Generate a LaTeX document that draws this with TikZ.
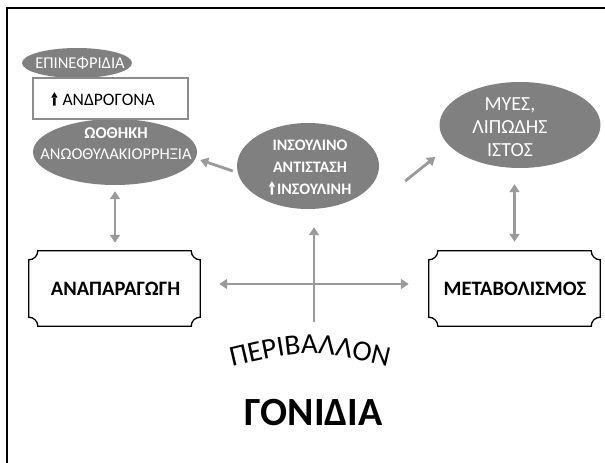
\documentclass[tikz,border=0pt]{standalone}
\usepackage{fontspec}
\setmainfont{Carlito}
\usetikzlibrary{shapes.geometric,arrows.meta,calc,decorations.text}

\definecolor{blobgray}{HTML}{808080}
\definecolor{arrowgray}{HTML}{9A9A9A}
\definecolor{boxgray}{HTML}{8C8C8C}

% small thick "increase" arrow used in front of a label
\newcommand\risearrow[1]{\tikz[baseline=0pt,x=1pt,y=1pt]{\fill[#1] (-1.2,0) rectangle (1.2,8.5) (-3.2,8) -- (3.2,8) -- (0,13.5) -- cycle;}}

% outline with concave corners around a named node
\newcommand\plaqueoutline[1]{%
  \draw[plaqueline]
    ($(#1.north west)+(9,0)$) -- ($(#1.north east)+(-9,0)$)
      .. controls +(0,5) and +(-5,0) .. ($(#1.north east)+(0,9)$)
    -- ($(#1.south east)+(0,-9)$)
      .. controls +(-5,0) and +(0,-5) .. ($(#1.south east)+(-9,0)$)
    -- ($(#1.south west)+(9,0)$)
      .. controls +(0,-5) and +(5,0) .. ($(#1.south west)+(0,-9)$)
    -- ($(#1.north west)+(0,9)$)
      .. controls +(5,0) and +(0,5) .. ($(#1.north west)+(9,0)$)
    -- cycle;}

\tikzset{
  blob/.style={ellipse, fill=blobgray, draw=none, inner sep=0pt},
  wtext/.style={text=white, align=center, inner sep=0pt},
  plaque/.style={rectangle, draw=none, inner sep=0pt,
    minimum width=171pt, minimum height=75pt,
    font=\fontsize{20.5}{22}\selectfont\bfseries},
  plaqueline/.style={draw=black, line width=1.3pt, fill=white},
  garrow/.style={draw=arrowgray, line width=2.8pt,
    -{Triangle[length=8pt,width=10pt]}},
  gdouble/.style={draw=arrowgray, line width=2.8pt,
    {Triangle[length=8pt,width=10pt]}-{Triangle[length=8pt,width=10pt]}},
}

\begin{document}
\begin{tikzpicture}[x=1pt,y=-1pt]
\useasboundingbox[fill=white] (0,0) rectangle (605,463);

% frame
\draw[line width=1.6pt] (7,463) -- (7,8) -- (605,8);

% adrenal glands, androgens, ovary
\node[blob, minimum width=110pt, minimum height=30pt] (adrenal) at (77,63) {};
\node[wtext, font=\fontsize{16.5}{17}\selectfont] (adrenaltxt) at (80,63.5) {ΕΠΙΝΕΦΡΙΔΙΑ};
\node[blob, minimum width=164pt, minimum height=66pt] (ovary) at (115,152) {};
\node[draw=boxgray, line width=2pt, fill=white, minimum width=155pt,
      minimum height=41pt, inner sep=0pt] (andbox) at (110.5,98.5) {};
\node[inner sep=0pt, font=\fontsize{17.5}{18}\selectfont] (andtxt) at (103,99)
  {\risearrow{black}\hspace{5pt}ΑΝΔΡΟΓΟΝΑ};
\node[wtext, font=\fontsize{16.5}{20}\selectfont] (ovarytxt) at (116,143.5)
  {\textbf{ΩΟΘΗΚΗ}\\[1pt] ΑΝΩΟΘΥΛΑΚΙΟΡΡΗΞΙΑ};

% insulin resistance
\node[blob, minimum width=142pt, minimum height=86pt] (insulin) at (308,166) {};
\node[wtext, font=\fontsize{16}{22}\selectfont\bfseries] (insulintxt) at (310,167.5)
  {ΙΝΣΟΥΛΙΝΟ\\ ΑΝΤΙΣΤΑΣΗ\\ \risearrow{white}\hspace{2pt}ΙΝΣΟΥΛΙΝΗ};

% muscle and adipose tissue
\node[blob, minimum width=161pt, minimum height=86pt] (muscle) at (520,125) {};
\node[wtext, font=\fontsize{20}{23}\selectfont] (muscletxt) at (510,127)
  {ΜΥΕΣ,\\ ΛΙΠΩΔΗΣ\\ ΙΣΤΟΣ};

% reproduction and metabolism
\node[plaque] (rep) at (114.5,288.5) {};
\plaqueoutline{rep}
\node[plaque] (reptxt) at (115.5,289) {ΑΝΑΠΑΡΑΓΩΓΗ};
\node[plaque] (met) at (514.5,288.5) {};
\plaqueoutline{met}
\node[plaque] (mettxt) at (515,289) {ΜΕΤΑΒΟΛΙΣΜΟΣ};

% connectors
\draw[gdouble, shorten <=6pt, shorten >=8pt] (ovary.south) -- (ovary.south |- rep.north);
\draw[gdouble, shorten <=16pt, shorten >=9pt] (met.north |- muscle.south) -- (met.north);
\draw[garrow] ($(insulin.west)+(-4,5)$) -- ($(ovary.east)+(3,8)$);
\draw[garrow] ($(insulin.east)+(26,15)$) -- ($(muscle.west)+(-4,32)$);
\draw[gdouble, shorten <=19pt, shorten >=20pt]
  ($(rep.east)+(0,-4.5)$) -- ($(met.west)+(0,-4.5)$);
\coordinate (envfoot) at (314,322);
\draw[garrow, shorten >=18pt] (envfoot) -- (envfoot |- insulin.south);

% environment and genes
{\fontsize{29}{29}\selectfont
\path[decorate, decoration={text along path, text align=center,
  text={ΠΕΡΙΒΑΛΛΟΝ}}]
  (222,369) .. controls (310,348) .. (398,369);}
\node[inner sep=0pt, font=\fontsize{40}{40}\selectfont\bfseries] (genes) at (313.5,413) {ΓΟΝΙΔΙΑ};
\end{tikzpicture}
\end{document}
